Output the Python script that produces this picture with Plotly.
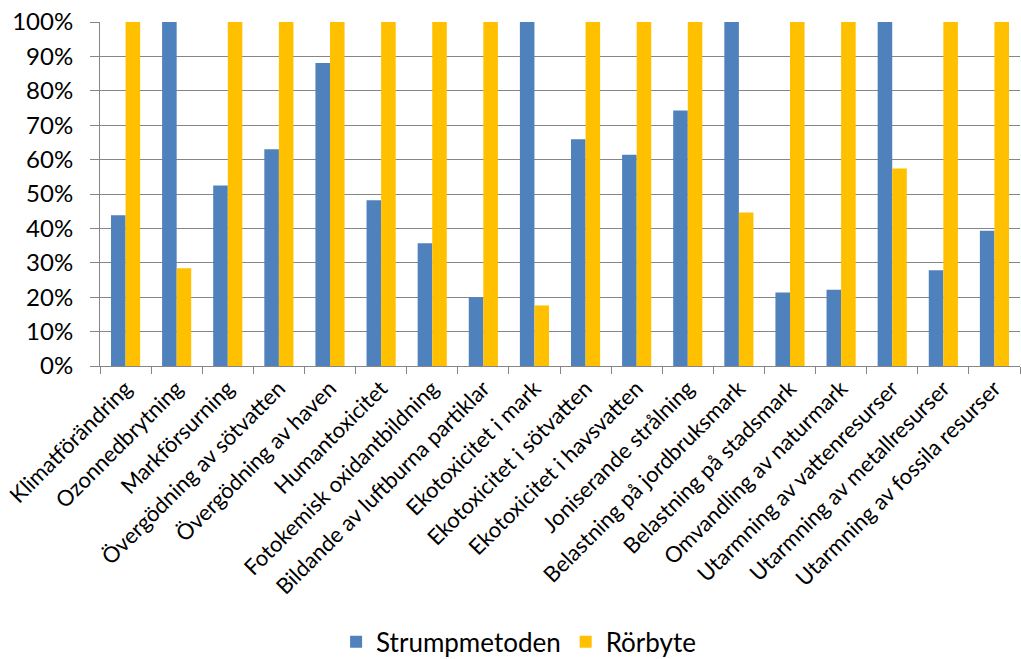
import plotly.graph_objects as go

categories = [
    "Klimatförändring", "Ozonnedbrytning", "Markförsurning",
    "Övergödning av sötvatten", "Övergödning av haven", "Humantoxicitet",
    "Fotokemisk oxidantbildning", "Bildande av luftburna partiklar",
    "Ekotoxicitet i mark", "Ekotoxicitet i sötvatten", "Ekotoxicitet i havsvatten",
    "Joniserande strålning", "Belastning på jordbruksmark", "Belastning på stadsmark",
    "Omvandling av naturmark", "Utarmning av vattenresurser",
    "Utarmning av metallresurser", "Utarmning av fossila resurser",
]

strumpmetoden = [0.438, 1.0, 0.525, 0.630, 0.881, 0.482, 0.357, 0.200, 1.0,
                 0.659, 0.614, 0.743, 1.0, 0.214, 0.222, 1.0, 0.278, 0.393]
rorbyte = [1.0, 0.284, 1.0, 1.0, 1.0, 1.0, 1.0, 1.0, 0.176,
           1.0, 1.0, 1.0, 0.446, 1.0, 1.0, 0.574, 1.0, 1.0]

y_ticks = [i / 10 for i in range(11)]
y_labels = [f"{i * 10}%" for i in range(11)]

FONT = "Lato, Open Sans, sans-serif"

fig = go.Figure()
fig.add_trace(go.Bar(x=categories, y=strumpmetoden, name="Strumpmetoden",
                     marker=dict(color="#4F81BD", line=dict(width=0))))
fig.add_trace(go.Bar(x=categories, y=rorbyte, name="Rörbyte",
                     marker=dict(color="#FFC000", line=dict(width=0))))

fig.update_layout(
    width=1021, height=659,
    margin=dict(l=100, r=1, t=22, b=293, autoexpand=False),
    paper_bgcolor="white", plot_bgcolor="white",
    barmode="group", bargap=0.43, bargroupgap=0,
    font=dict(family=FONT, color="#000000"),
    showlegend=True,
    legend=dict(orientation="h", x=0.455, xanchor="center",
                yref="container", y=0.026, yanchor="middle",
                font=dict(size=26), itemwidth=30, traceorder="normal"),
)
fig.update_xaxes(
    type="category", tickangle=-45, tickfont=dict(size=22), automargin=False,
    showline=True, linecolor="#868686", linewidth=1,
    ticks="outside", tickson="boundaries", ticklen=7, tickcolor="#868686",
    showgrid=False,
)
fig.update_yaxes(
    range=[0, 1], tickvals=y_ticks, ticktext=y_labels, tickfont=dict(size=24),
    automargin=False,
    showline=True, linecolor="#868686", linewidth=1,
    ticks="outside", ticklen=9, tickcolor="#868686", ticklabelstandoff=12,
    showgrid=True, gridcolor="#868686", gridwidth=1, zeroline=False,
)

fig.write_html("out.html")
